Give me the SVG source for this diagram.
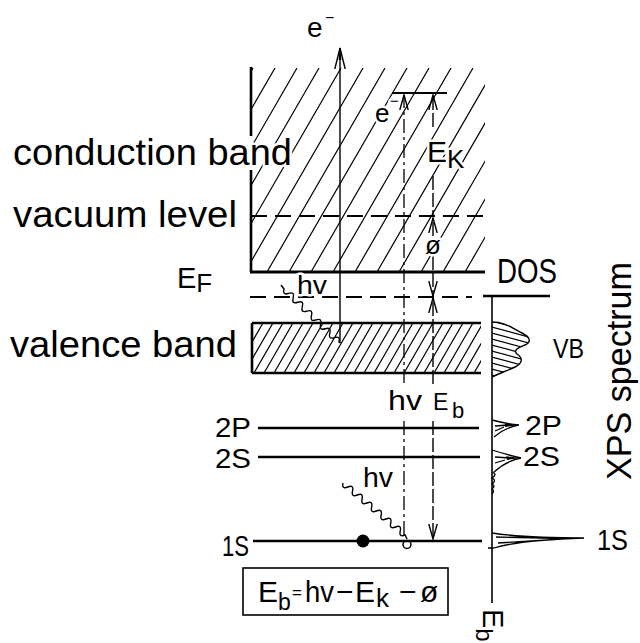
<svg xmlns="http://www.w3.org/2000/svg" width="640" height="643" viewBox="0 0 640 643">
<style>
text{font-family:"Liberation Sans",Arial,sans-serif;fill:#000}
.lvl{stroke:#000;stroke-width:2.6;fill:none}
.hat{stroke:#000;stroke-width:1.2;fill:none}
.dash{stroke:#000;stroke-width:2;stroke-dasharray:16 8;fill:none}
.arr{stroke:#000;stroke-width:1.4;fill:none}
.dd{stroke:#000;stroke-width:1.3;fill:none;stroke-dasharray:14 4 3 4}
.ds{stroke:#000;stroke-width:1.4;fill:none;stroke-dasharray:14 3}
.wave{stroke:#000;stroke-width:1.4;fill:none}
.halo{stroke:#fff;stroke-width:5;paint-order:stroke;stroke-linejoin:round}
</style>
<defs>
<clipPath id="cbc"><rect x="251" y="68" width="234" height="204"/></clipPath>
<clipPath id="vbc"><rect x="252" y="323" width="229" height="50"/></clipPath>
<clipPath id="spc"><path d="M492,322 C505,322 512,328 522,333 C530,337 532,342 525,345 C518,348 513,350 517,354 C523,358 523,363 515,367 C506,371 498,374 492,377 Z"/></clipPath>
<marker id="ah" viewBox="0 0 16 10" refX="15" refY="5" markerWidth="16" markerHeight="10" markerUnits="userSpaceOnUse" orient="auto"><path d="M0,0.8L15,5L0,9.2" fill="none" stroke="#000" stroke-width="1.4"/></marker>
<marker id="ahL" viewBox="0 0 22 12" refX="21" refY="6" markerWidth="22" markerHeight="12" markerUnits="userSpaceOnUse" orient="auto"><path d="M0,0.8L21,6L0,11.2" fill="none" stroke="#000" stroke-width="1.4"/><path d="M9,4.6L21,6L9,7.4Z" fill="#000"/></marker>
</defs>

<g id="conduction-band">
<path class="hat" clip-path="url(#cbc)" d="M135,272l118,-204M157,272l118,-204M179,272l118,-204M201,272l118,-204M223,272l118,-204M245,272l118,-204M267,272l118,-204M289,272l118,-204M311,272l118,-204M333,272l118,-204M355,272l118,-204M377,272l118,-204M399,272l118,-204M421,272l118,-204M443,272l118,-204M465,272l118,-204"/>
<path class="lvl" d="M251,67V136M251,170V272"/>
<path stroke="#000" stroke-width="3.2" fill="none" d="M250,272H485"/>
<text class="halo" x="13" y="165" font-size="37" textLength="279" lengthAdjust="spacingAndGlyphs">conduction band</text>
<text x="177" y="288" font-size="29">E<tspan y="292" font-size="26">F</tspan></text>
</g>

<g id="vacuum-level">
<path class="dash" d="M251,216H483"/>
<text x="13" y="227" font-size="37" textLength="224" lengthAdjust="spacingAndGlyphs">vacuum level</text>
</g>

<g id="kinetic-level">
<path stroke="#000" stroke-width="2.2" fill="none" d="M392,93H447"/>
</g>

<g id="fermi-dashed">
<path class="dash" d="M250,297H472"/>
</g>

<g id="valence-band">
<path class="hat" clip-path="url(#vbc)" d="M224,373l29,-50M234,373l29,-50M244,373l29,-50M254,373l29,-50M264,373l29,-50M274,373l29,-50M284,373l29,-50M294,373l29,-50M304,373l29,-50M314,373l29,-50M324,373l29,-50M334,373l29,-50M344,373l29,-50M354,373l29,-50M364,373l29,-50M374,373l29,-50M384,373l29,-50M394,373l29,-50M404,373l29,-50M414,373l29,-50M424,373l29,-50M434,373l29,-50M444,373l29,-50M454,373l29,-50M464,373l29,-50M474,373l29,-50"/>
<path class="lvl" d="M252,323H481M252,373H481M252,323V373"/>
<text x="10" y="357" font-size="37" textLength="227" lengthAdjust="spacingAndGlyphs">valence band</text>
</g>

<g id="level-2P">
<path class="lvl" d="M258,428H479"/>
<text x="215" y="437" font-size="27" textLength="36" lengthAdjust="spacingAndGlyphs">2P</text>
</g>

<g id="level-2S">
<path class="lvl" d="M258,457H480"/>
<text x="215" y="468" font-size="27" textLength="36" lengthAdjust="spacingAndGlyphs">2S</text>
</g>

<g id="level-1S">
<path class="lvl" d="M253,541H482"/>
<text x="222" y="556" font-size="30" textLength="27" lengthAdjust="spacingAndGlyphs">1S</text>
<circle cx="363" cy="541" r="6.5" fill="#000"/>
<circle cx="407" cy="544.5" r="4" fill="none" stroke="#000" stroke-width="1.5"/>
</g>

<g id="spectrum">
<path stroke="#000" stroke-width="2.5" fill="none" d="M483,296H550"/>
<path stroke="#000" stroke-width="1.6" fill="none" d="M492,296V603"/>
<text x="497" y="283" font-size="35" textLength="60" lengthAdjust="spacingAndGlyphs">DOS</text>
<path class="hat" clip-path="url(#spc)" d="M488,314l48,13M488,320l48,13M488,326l48,13M488,332l48,13M488,338l48,13M488,344l48,13M488,350l48,13M488,356l48,13M488,362l48,13M488,368l48,13M488,374l48,13"/>
<path stroke="#000" stroke-width="1.4" fill="none" d="M492,322 C505,322 512,328 522,333 C530,337 532,342 525,345 C518,348 513,350 517,354 C523,358 523,363 515,367 C506,371 498,374 492,377"/>
<text x="553" y="358" font-size="28" textLength="31" lengthAdjust="spacingAndGlyphs">VB</text>
<path stroke="#000" stroke-width="1.3" fill="none" d="M492,420 Q507,424 519,425 Q506,427 494,437 M495,426 L508,425 M495,431 L504,427"/>
<path d="M505,423.2 L519,425 L505,427 Z" fill="#000"/>
<text x="525" y="435" font-size="28" textLength="37" lengthAdjust="spacingAndGlyphs">2P</text>
<path stroke="#000" stroke-width="1.3" fill="none" d="M492,450 Q508,455 521,458 Q506,461 494,472 M495,457 L510,458 M495,463 L505,460 M492,472 q6,2 0,6 q5,2 0,6 q4,2 0,5 q3,2 0,5"/>
<path d="M506,456.2 L521,458 L507,460 Z" fill="#000"/>
<text x="523" y="466" font-size="28" textLength="37" lengthAdjust="spacingAndGlyphs">2S</text>
<path stroke="#000" stroke-width="1.3" fill="none" d="M492,533 Q525,538 584,538 Q520,540 494,548 M496,537 L565,538.5 M498,543 L555,539.5 M488,548h6"/>
<path d="M550,537.2 L584,538 L550,539.6 Z" fill="#000"/>
<text x="597" y="550" font-size="30" textLength="31" lengthAdjust="spacingAndGlyphs">1S</text>
<text transform="translate(631,480) rotate(-90)" font-size="35" textLength="218" lengthAdjust="spacingAndGlyphs">XPS spectrum</text>
<text transform="translate(483,609) rotate(90)" font-size="29">E<tspan dy="7" font-size="24">b</tspan></text>
</g>

<g id="formula">
<rect x="243" y="568" width="205" height="47" fill="none" stroke="#000" stroke-width="1.6"/>
<text y="602" font-size="30"><tspan x="258">E</tspan><tspan x="278" y="610" font-size="23">b</tspan><tspan x="292" y="598" font-size="17">=</tspan><tspan x="305" y="602" font-size="30" textLength="29" lengthAdjust="spacingAndGlyphs">hv</tspan><tspan x="336">−</tspan><tspan x="355">E</tspan><tspan x="376" y="607" font-size="26">k</tspan><tspan x="399" y="602" font-size="30">−</tspan><tspan x="420">ø</tspan></text>
</g>

<g id="connectors">
<path class="arr" d="M340,343V48" marker-end="url(#ahL)"/>
<path class="dd" d="M404,383V95" marker-end="url(#ah)"/>
<path class="dd" d="M404,421V538"/>
<path class="ds" d="M433,127V95" marker-end="url(#ah)"/>
<path class="ds" d="M433,176V216"/>
<path class="ds" d="M433,236V218" marker-end="url(#ah)"/>
<path class="ds" d="M433,256V296" marker-end="url(#ah)"/>
<path class="ds" d="M433,384V298" marker-end="url(#ah)"/>
<path class="ds" d="M433,421V539" marker-end="url(#ah)"/>
<path class="wave" d="M281,285 l3,4 q-1.87,6.53 4.58,4.42 t4.58,4.42 t4.58,4.42 t4.58,4.42 t4.58,4.42 t4.58,4.42 t4.58,4.42 t4.58,4.42 t4.58,4.42 t4.58,4.42 t4.58,4.42 t4.58,4.42 l1,1"/>
<path class="wave" d="M343,483 q-1.47,6.6 4.77,4 t4.77,4 t4.77,4 t4.77,4 t4.77,4 t4.77,4 t4.77,4 t4.77,4 t4.77,4 t4.77,4 t4.77,4 t4.77,4 t4.77,4 l2,4"/>
</g>

<g id="labels">
<text x="307" y="37" font-size="28">e<tspan x="325" y="23" font-size="16">−</tspan></text>
<text class="halo" x="375" y="122" font-size="26">e<tspan x="390" y="106" font-size="15">−</tspan></text>
<text class="halo" x="427" y="162" font-size="30">E<tspan y="168" font-size="26">K</tspan></text>
<text class="halo" x="425" y="254" font-size="26">ø</text>
<text class="halo" x="297" y="294" font-size="26" textLength="30" lengthAdjust="spacingAndGlyphs">hv</text>
<text x="388" y="410" font-size="27" textLength="34" lengthAdjust="spacingAndGlyphs">hv</text>
<text x="433" y="410" font-size="23">E<tspan x="452" y="418" font-size="22">b</tspan></text>
<text x="363" y="487" font-size="27" textLength="30" lengthAdjust="spacingAndGlyphs">hv</text>
</g>
</svg>
